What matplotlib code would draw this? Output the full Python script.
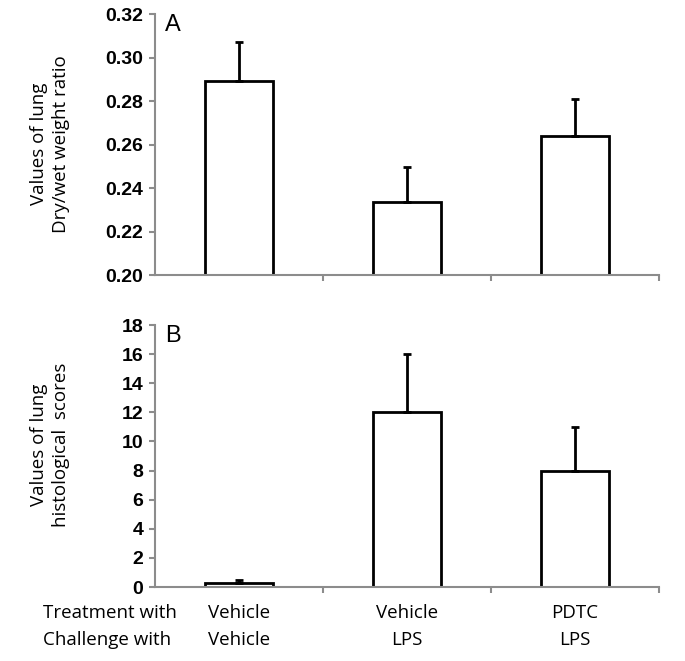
import matplotlib
matplotlib.use("Agg")
import matplotlib.pyplot as plt
import numpy as np

treatments = ["Vehicle", "Vehicle", "PDTC"]
challenges = ["Vehicle", "LPS", "LPS"]
ratio_means = [0.289, 0.2335, 0.264]
ratio_err = [0.018, 0.016, 0.017]
score_means = [0.3, 12.0, 8.0]
score_err = [0.2, 4.0, 3.0]
ratio_ticks = [0.20, 0.22, 0.24, 0.26, 0.28, 0.30, 0.32]
score_ticks = [0, 2, 4, 6, 8, 10, 12, 14, 16, 18]

tick_font = dict(family="Liberation Sans", weight="bold", size=14)
label_font = "Open Sans"
label_size = 13.5
gray = "#8c8c8c"

W, H = 685, 661
fig = plt.figure(figsize=(W / 100, H / 100), dpi=100)
axA = fig.add_axes([155 / W, 1 - 275 / H, 504 / W, 261 / H])
axB = fig.add_axes([155 / W, 1 - 587 / H, 504 / W, 262 / H])

x = np.arange(len(treatments))

def style(ax, means, errs, ticks, fmt, letter):
    ax.bar(x, means, width=0.4, color="white", edgecolor="black", linewidth=2, zorder=2)
    ax.errorbar(x, means, yerr=[np.zeros(len(errs)), errs], fmt="none", ecolor="black",
                elinewidth=2, capsize=3, capthick=2, zorder=3)
    ax.set_xlim(-0.5, len(x) - 0.5)
    ax.set_ylim(ticks[0], ticks[-1])
    ax.set_yticks(ticks)
    ax.set_yticklabels([fmt.format(t) for t in ticks], fontdict=tick_font)
    ax.set_xticks([0.5, 1.5, 2.5])
    ax.set_xticklabels([])
    for s in ["top", "right"]:
        ax.spines[s].set_visible(False)
    for s in ["left", "bottom"]:
        ax.spines[s].set_color(gray)
        ax.spines[s].set_linewidth(1.5)
    ax.tick_params(axis="y", direction="out", length=4.5, width=1.5, color=gray, pad=4)
    ax.tick_params(axis="x", direction="out", length=4, width=1.5, color=gray)
    ax.text(0.02, 1.0, letter, transform=ax.transAxes, fontsize=17,
            family="Liberation Sans", va="top", ha="left")

style(axA, ratio_means, ratio_err, ratio_ticks, "{:.2f}", "A")
style(axB, score_means, score_err, score_ticks, "{:d}", "B")

fig.text(50 / W, 1 - 144 / H, "Values of lung\nDry/wet weight ratio", rotation=90,
         ha="center", va="center", multialignment="center", family=label_font,
         fontsize=label_size, linespacing=1.3)
fig.text(50 / W, 1 - 445 / H, "Values of lung\nhistological  scores", rotation=90,
         ha="center", va="center", multialignment="center", family=label_font,
         fontsize=label_size, linespacing=1.3)

for i, (t, c) in enumerate(zip(treatments, challenges)):
    axB.annotate(t, xy=(i, 0), xycoords=("data", "axes fraction"), xytext=(0, -19),
                 textcoords="offset points", ha="center", va="center", family=label_font,
                 fontsize=label_size)
    axB.annotate(c, xy=(i, 0), xycoords=("data", "axes fraction"), xytext=(0, -38.5),
                 textcoords="offset points", ha="center", va="center", family=label_font,
                 fontsize=label_size)
fig.text(43 / W, 1 - 613 / H, "Treatment with", family=label_font, fontsize=label_size,
         va="center", ha="left")
fig.text(43 / W, 1 - 640 / H, "Challenge with", family=label_font, fontsize=label_size,
         va="center", ha="left")

fig.savefig("out.png", dpi=100)
